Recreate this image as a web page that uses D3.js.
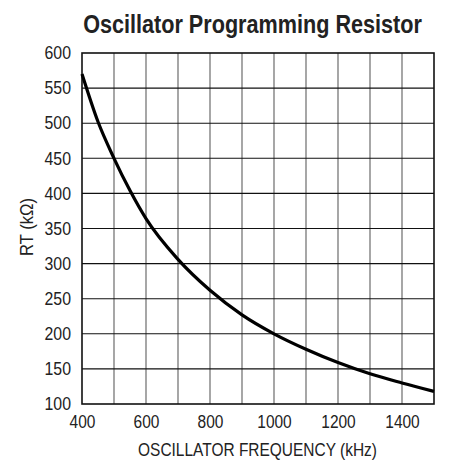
<!DOCTYPE html>
<html>
<head>
<meta charset="utf-8">
<script src="https://cdn.jsdelivr.net/npm/d3@7"></script>
<style>
  body { margin: 0; background: #fff; }
  svg { font-family: "Liberation Sans", Arial, sans-serif; }
</style>
</head>
<body>
<svg id="chart" width="461" height="463"></svg>
<script>
// values
const freq = [400, 450, 500, 550, 600, 700, 800, 900, 1000, 1100, 1200, 1300, 1400, 1500];
const rt = [570, 502, 450, 404, 364, 306, 262, 227, 200, 178, 159, 143, 130, 118];
const xTicks = [400, 600, 800, 1000, 1200, 1400];
const yTicks = [100, 150, 200, 250, 300, 350, 400, 450, 500, 550, 600];

const margin = { top: 53, right: 27, bottom: 59, left: 82 };
const width = 461 - margin.left - margin.right;
const height = 463 - margin.top - margin.bottom;

// the reference uses a condensed face; squeeze Liberation Sans to match
const condense = (sel, k) => sel.each(function () {
  const w = this.getComputedTextLength();
  d3.select(this).attr('textLength', w * k).attr('lengthAdjust', 'spacingAndGlyphs');
});

// fixed-width label: scale horizontally around its anchor point
const squeezed = (px, py, w, rot) => {
  const t = svg.append('text').attr('text-anchor', 'middle').attr('fill', '#222');
  return {
    t,
    fit() {
      const k = w / t.node().getComputedTextLength();
      t.attr('transform', `translate(${px},${py})${rot ? ' rotate(-90)' : ''} scale(${k},1)`);
      return t;
    }
  };
};

const svg = d3.select('#chart');
const g = svg.append('g').attr('transform', `translate(${margin.left},${margin.top})`);

const x = d3.scaleLinear().domain([400, 1500]).range([0, width]);
const y = d3.scaleLinear().domain([100, 600]).range([height, 0]);

// vertical grid every 100 kHz (grey)
g.selectAll('.vgrid')
  .data(d3.range(500, 1500, 100))
  .enter().append('line')
    .attr('x1', (d) => x(d)).attr('x2', (d) => x(d))
    .attr('y1', 0).attr('y2', height)
    .attr('stroke', '#777').attr('stroke-width', 1.3);

// horizontal grid (black)
g.selectAll('.hgrid')
  .data(yTicks.slice(1, -1))
  .enter().append('line')
    .attr('x1', 0).attr('x2', width)
    .attr('y1', (d) => y(d)).attr('y2', (d) => y(d))
    .attr('stroke', '#111').attr('stroke-width', 1.1);

g.append('rect')
  .attr('width', width).attr('height', height)
  .attr('fill', 'none').attr('stroke', '#111').attr('stroke-width', 1.6);

const yAxis = g.append('g')
  .call(d3.axisLeft(y).tickValues(yTicks).tickFormat(d3.format('d')).tickSize(0).tickPadding(11));
yAxis.select('.domain').remove();
yAxis.selectAll('text').attr('font-size', 18).attr('fill', '#222').attr('font-family', null)
  .call(condense, 0.88);

const xAxis = g.append('g')
  .attr('transform', `translate(0,${height})`)
  .call(d3.axisBottom(x).tickValues(xTicks).tickFormat(d3.format('d')).tickSize(0).tickPadding(11));
xAxis.select('.domain').remove();
xAxis.selectAll('text').attr('font-size', 18).attr('fill', '#222').attr('font-family', null)
  .call(condense, 0.86);

const line = d3.line()
  .x((d, i) => x(freq[i]))
  .y((d) => y(d))
  .curve(d3.curveMonotoneX);

g.append('path')
  .datum(rt)
  .attr('d', line)
  .attr('fill', 'none')
  .attr('stroke', '#000')
  .attr('stroke-width', 3.2);

const title = squeezed(252.5, 32.5, 339);
title.t.attr('font-size', 26.5).attr('font-weight', 'bold').text('Oscillator Programming Resistor');
title.fit();

const xTitle = squeezed(257.5, 456, 239);
xTitle.t.attr('font-size', 18.5).text('OSCILLATOR FREQUENCY (kHz)');
xTitle.fit();

const yTitle = squeezed(33, 227, 58, true);
yTitle.t.attr('font-size', 17.5).text('RT (kΩ)');
yTitle.fit();
</script>
</body>
</html>
